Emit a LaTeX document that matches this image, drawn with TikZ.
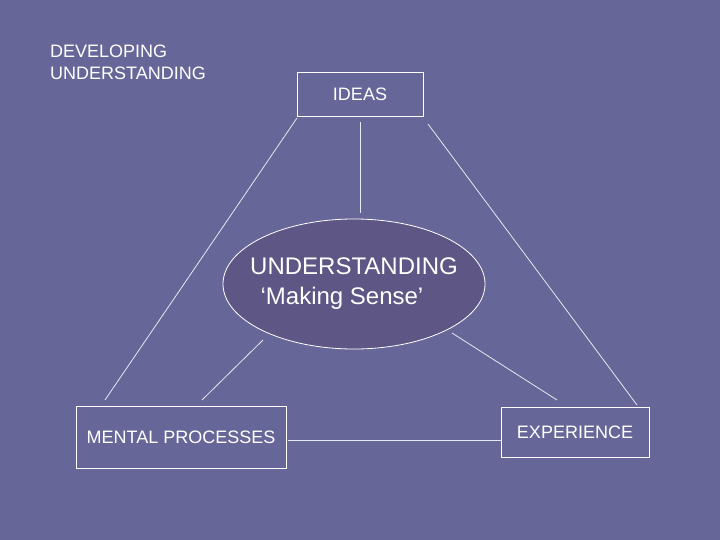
\documentclass[tikz,border=0pt]{standalone}
\usepackage{fontspec}
\setmainfont{Liberation Sans}
\usetikzlibrary{shapes.geometric}
\definecolor{bg}{HTML}{666699}
\definecolor{ell}{HTML}{5E5684}
\begin{document}
\begin{tikzpicture}[x=1pt,y=-1pt,
  box/.style={draw=white,line width=0.8pt,inner sep=0pt,text=white},
  ln/.style={draw=white!85!bg,line width=0.8pt}]
\useasboundingbox[fill=bg] (0,0) rectangle (720,540);
\node[anchor=north west,align=left,text=white,font=\fontsize{18}{22}\selectfont,inner sep=0pt] (title) at (50,45) {DEVELOPING\\UNDERSTANDING};
\node[box,minimum width=126pt,minimum height=44pt,font=\fontsize{18}{20}\selectfont] (ideas) at (360,94) {IDEAS};
\node[box,ellipse,fill=ell,minimum width=262pt,minimum height=130pt] (und) at (354,284) {};
\node[align=center,text=white,inner sep=0pt,font=\fontsize{24}{30}\selectfont] (undtext) at (und.center) {UNDERSTANDING\\\hspace*{-1em}`Making Sense'};
\node[box,minimum width=210pt,minimum height=62pt,font=\fontsize{18}{20}\selectfont] (mental) at (181,437) {MENTAL PROCESSES};
\node[box,minimum width=148pt,minimum height=50pt,font=\fontsize{18}{20}\selectfont] (exp) at (575,432) {EXPERIENCE};
\coordinate (a1) at (297,118); \coordinate (a2) at (105,400);
\coordinate (b1) at (428,124); \coordinate (b2) at (637,405);
\coordinate (c1) at (360,122); \coordinate (c2) at (360,213);
\coordinate (d1) at (263,340); \coordinate (d2) at (202,400);
\coordinate (e1) at (452,333); \coordinate (e2) at (557,400);
\draw[ln] (a1) -- (a2);
\draw[ln] (b1) -- (b2);
\draw[ln] (c1) -- (c2);
\draw[ln] (d1) -- (d2);
\draw[ln] (e1) -- (e2);
\draw[ln] (mental.east) ++(2,3) coordinate (f1) -- (exp.west |- f1);
\end{tikzpicture}
\end{document}
